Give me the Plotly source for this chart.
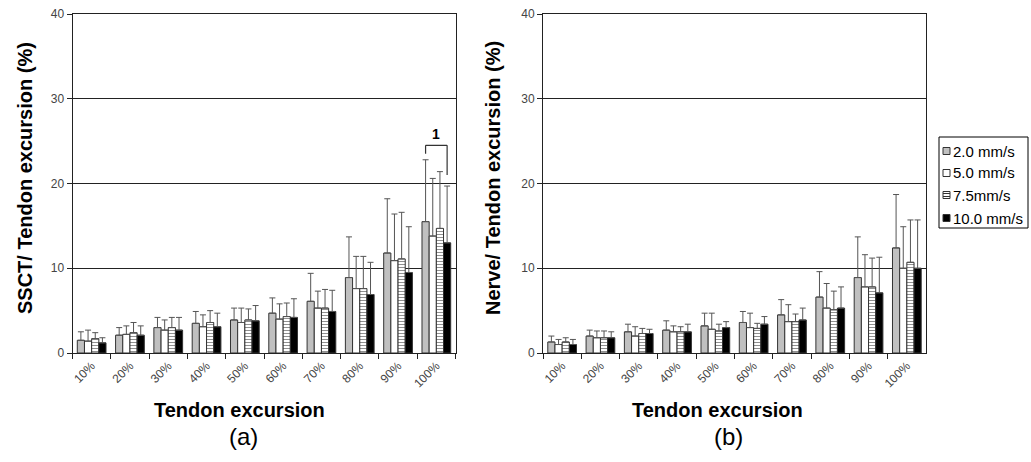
import plotly.graph_objects as go

categories = ["10%", "20%", "30%", "40%", "50%", "60%", "70%", "80%", "90%", "100%"]
series_names = ["2.0 mm/s", "5.0 mm/s", "7.5mm/s", "10.0 mm/s"]

# Panel (a): SSCT / tendon excursion (%)
ssct_20 = [1.5, 2.1, 3.0, 3.5, 3.9, 4.7, 6.1, 8.9, 11.8, 15.5]
ssct_20_sd = [1.0, 0.9, 1.2, 1.4, 1.4, 1.8, 3.3, 4.8, 6.4, 7.3]
ssct_50 = [1.4, 2.2, 2.7, 3.1, 3.6, 4.0, 5.3, 7.6, 10.9, 13.8]
ssct_50_sd = [1.3, 1.0, 1.2, 1.4, 1.7, 1.8, 2.0, 3.8, 5.5, 6.8]
ssct_75 = [1.7, 2.4, 3.0, 3.6, 3.9, 4.3, 5.3, 7.6, 11.1, 14.7]
ssct_75_sd = [0.7, 1.2, 1.2, 1.4, 1.3, 1.6, 2.2, 3.8, 5.5, 6.7]
ssct_100 = [1.2, 2.1, 2.7, 3.1, 3.8, 4.2, 4.9, 6.9, 9.5, 13.0]
ssct_100_sd = [0.6, 1.1, 1.5, 1.6, 1.8, 2.2, 2.5, 3.8, 5.4, 6.7]

# Panel (b): Nerve / tendon excursion (%)
nerve_20 = [1.3, 2.0, 2.5, 2.7, 3.2, 3.6, 4.5, 6.6, 8.9, 12.4]
nerve_20_sd = [0.7, 0.7, 0.9, 1.1, 1.5, 1.3, 1.8, 3.0, 4.8, 6.3]
nerve_50 = [1.0, 1.8, 2.0, 2.5, 2.8, 3.0, 3.7, 5.3, 7.8, 10.0]
nerve_50_sd = [0.6, 0.8, 1.1, 0.7, 1.9, 1.7, 2.0, 2.9, 3.8, 4.9]
nerve_75 = [1.3, 1.8, 2.3, 2.5, 2.6, 2.9, 3.7, 5.1, 7.8, 10.7]
nerve_75_sd = [0.5, 0.8, 0.6, 0.6, 0.8, 0.6, 0.9, 2.2, 3.4, 5.0]
nerve_100 = [1.0, 1.8, 2.3, 2.5, 3.0, 3.4, 3.9, 5.3, 7.1, 10.0]
nerve_100_sd = [0.6, 0.7, 0.5, 0.9, 0.7, 0.9, 1.4, 2.5, 4.2, 5.7]

# significance bracket in panel (a), 100% group
bracket_top = 24.5
bracket_left_end = 23.5
bracket_right_end = 21.0
bracket_label = "1"

FONT = "Arial, Liberation Sans, sans-serif"
W, H = 1031, 462


def px(x):
    return x / W


def py(y):
    return 1 - y / H


BARGAP = 0.25
fills = ["#c0c0c0", "#ffffff", "#ffffff", "#000000"]
stripe = dict(shape="-", fgcolor="#222222", bgcolor="#ffffff", size=3, solidity=0.35)

panel_a = [(ssct_20, ssct_20_sd), (ssct_50, ssct_50_sd), (ssct_75, ssct_75_sd), (ssct_100, ssct_100_sd)]
panel_b = [(nerve_20, nerve_20_sd), (nerve_50, nerve_50_sd), (nerve_75, nerve_75_sd), (nerve_100, nerve_100_sd)]

fig = go.Figure()
for panel_idx, (panel, xa, ya) in enumerate([(panel_a, "x", "y"), (panel_b, "x2", "y2")]):
    for i, (vals, sds) in enumerate(panel):
        marker = dict(color=fills[i], line=dict(color="#333333", width=1))
        if i == 2:
            marker["pattern"] = stripe
        fig.add_trace(go.Bar(
            x=categories, y=vals, name=series_names[i], xaxis=xa, yaxis=ya,
            marker=marker, offsetgroup=str(i), showlegend=False,
            error_y=dict(type="data", array=sds, symmetric=False, arrayminus=[0] * len(sds),
                         color="#555555", thickness=1, width=3),
        ))

yaxis_common = dict(range=[0, 40], tickvals=[0, 10, 20, 30, 40], showgrid=True, gridcolor="#222222",
                    gridwidth=1, showline=True, linecolor="#222222", mirror=True, ticks="outside",
                    ticklen=5, tickcolor="#222222", tickfont=dict(family=FONT, size=12, color="#444444"),
                    zeroline=False, automargin=False)
xaxis_common = dict(type="category", tickson="boundaries", ticks="outside", ticklen=5, tickcolor="#222222",
                    showline=True, linecolor="#222222", mirror=True, tickangle=-45,
                    tickfont=dict(family=FONT, size=12, color="#444444"), showgrid=False, automargin=False)

fig.update_layout(
    width=W, height=H, margin=dict(l=0, r=0, t=0, b=0),
    paper_bgcolor="white", plot_bgcolor="white",
    barmode="group", bargap=BARGAP, bargroupgap=0, showlegend=False,
    font=dict(family=FONT, color="#000000"),
    xaxis=dict(domain=[px(72.5), px(455.5)], anchor="y", **xaxis_common),
    yaxis=dict(domain=[py(353), py(14)], anchor="x", **yaxis_common),
    xaxis2=dict(domain=[px(543), px(926)], anchor="y2", **xaxis_common),
    yaxis2=dict(domain=[py(353), py(14)], anchor="x2", **yaxis_common),
)

# bracket for significance marker
w = (1 - BARGAP) / 4
xl = 9 - 1.5 * w
xr = 9 + 1.5 * w
line = dict(color="#333333", width=1.2)
fig.add_shape(type="line", xref="x", yref="y", x0=xl, x1=xr, y0=bracket_top, y1=bracket_top, line=line)
fig.add_shape(type="line", xref="x", yref="y", x0=xl, x1=xl, y0=bracket_top, y1=bracket_left_end, line=line)
fig.add_shape(type="line", xref="x", yref="y", x0=xr, x1=xr, y0=bracket_top, y1=bracket_right_end, line=line)
fig.add_annotation(xref="x", yref="y", x=9, y=bracket_top, text="<b>" + bracket_label + "</b>",
                   showarrow=False, xanchor="center", yanchor="bottom", yshift=1,
                   font=dict(family=FONT, size=14))

# legend (boxed, small square keys)
lx0, lx1, ly0, ly1 = 939, 1028, 137, 228
fig.add_shape(type="rect", xref="paper", yref="paper", x0=px(lx0), x1=px(lx1), y0=py(ly1), y1=py(ly0),
              line=dict(color="#000000", width=1), fillcolor="white", layer="above")
row_y = [151, 173, 195, 218]
for i, name in enumerate(series_names):
    cy = row_y[i]
    s0, s1 = 943, 950
    fig.add_shape(type="rect", xref="paper", yref="paper", x0=px(s0), x1=px(s1), y0=py(cy + 3.5), y1=py(cy - 3.5),
                  line=dict(color="#333333", width=1), fillcolor=fills[i], layer="above")
    if i == 2:
        for dy in (-1.5, 1.5):
            fig.add_shape(type="line", xref="paper", yref="paper", x0=px(s0), x1=px(s1),
                          y0=py(cy + dy), y1=py(cy + dy), line=dict(color="#333333", width=1), layer="above")
    fig.add_annotation(xref="paper", yref="paper", x=px(951), y=py(cy), text=name,
                       xanchor="left", yanchor="middle", showarrow=False,
                       font=dict(family=FONT, size=15, color="#000000"))

# axis titles and panel labels
title_font = dict(family=FONT, size=20, color="#000000")
fig.add_annotation(xref="paper", yref="paper", x=px(25), y=py(178), text="<b>SSCT/ Tendon excursion (%)</b>",
                   textangle=-90, showarrow=False, xanchor="center", yanchor="middle", font=title_font)
fig.add_annotation(xref="paper", yref="paper", x=px(493), y=py(178), text="<b>Nerve/ Tendon excursion (%)</b>",
                   textangle=-90, showarrow=False, xanchor="center", yanchor="middle", font=title_font)
fig.add_annotation(xref="paper", yref="paper", x=px(239), y=py(410), text="<b>Tendon excursion</b>",
                   showarrow=False, xanchor="center", yanchor="middle",
                   font=dict(family=FONT, size=20, color="#000000"))
fig.add_annotation(xref="paper", yref="paper", x=px(717), y=py(410), text="<b>Tendon excursion</b>",
                   showarrow=False, xanchor="center", yanchor="middle",
                   font=dict(family=FONT, size=20, color="#000000"))
fig.add_annotation(xref="paper", yref="paper", x=px(243), y=py(436), text="(a)",
                   showarrow=False, xanchor="center", yanchor="middle",
                   font=dict(family=FONT, size=24, color="#000000"))
fig.add_annotation(xref="paper", yref="paper", x=px(728), y=py(436), text="(b)",
                   showarrow=False, xanchor="center", yanchor="middle",
                   font=dict(family=FONT, size=24, color="#000000"))

fig.write_html("out.html", config={"displayModeBar": False},
               post_script="document.body.style.margin='0';")
